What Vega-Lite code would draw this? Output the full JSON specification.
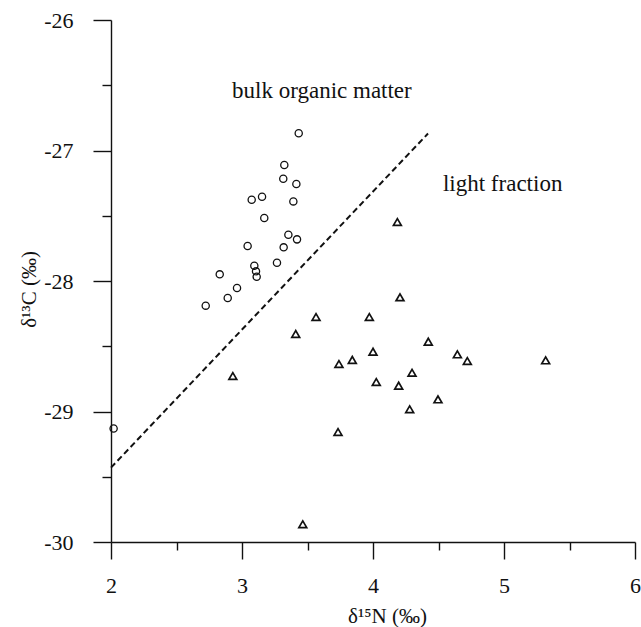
{
  "$schema": "https://vega.github.io/schema/vega-lite/v6.json",
  "width": 524,
  "height": 522,
  "autosize": "none",
  "padding": {"left": 111, "top": 20, "right": 6, "bottom": 85},
  "background": "white",
  "config": {
    "view": {"stroke": null},
    "font": "Liberation Serif",
    "axis": {
      "grid": false,
      "domainColor": "#111111",
      "domainWidth": 1.4,
      "tickColor": "#111111",
      "tickWidth": 1.4,
      "labelFont": "Liberation Serif",
      "labelFontSize": 22,
      "labelColor": "#111111",
      "labelFlush": false,
      "titleFont": "Liberation Serif",
      "titleFontSize": 21,
      "titleFontWeight": "normal",
      "titleColor": "#111111"
    }
  },
  "datasets": {
    "bulk": [
      {"n": 3.433, "c": -26.868},
      {"n": 3.323, "c": -27.111},
      {"n": 3.315, "c": -27.216},
      {"n": 3.415, "c": -27.257},
      {"n": 3.074, "c": -27.377},
      {"n": 3.153, "c": -27.354},
      {"n": 3.392, "c": -27.390},
      {"n": 3.170, "c": -27.517},
      {"n": 3.354, "c": -27.645},
      {"n": 3.420, "c": -27.681},
      {"n": 3.043, "c": -27.732},
      {"n": 3.318, "c": -27.742},
      {"n": 3.267, "c": -27.860},
      {"n": 3.094, "c": -27.883},
      {"n": 3.107, "c": -27.926},
      {"n": 3.112, "c": -27.967},
      {"n": 2.830, "c": -27.949},
      {"n": 2.962, "c": -28.054},
      {"n": 2.891, "c": -28.130},
      {"n": 2.723, "c": -28.189},
      {"n": 2.02, "c": -29.13}
    ],
    "light": [
      {"n": 4.186, "c": -27.548},
      {"n": 4.206, "c": -28.125},
      {"n": 3.565, "c": -28.276},
      {"n": 3.972, "c": -28.276},
      {"n": 3.410, "c": -28.406},
      {"n": 4.422, "c": -28.465},
      {"n": 4.000, "c": -28.542},
      {"n": 4.644, "c": -28.562},
      {"n": 4.720, "c": -28.613},
      {"n": 3.842, "c": -28.605},
      {"n": 3.740, "c": -28.636},
      {"n": 4.298, "c": -28.703},
      {"n": 4.025, "c": -28.774},
      {"n": 4.196, "c": -28.802},
      {"n": 4.496, "c": -28.907},
      {"n": 4.280, "c": -28.983},
      {"n": 3.733, "c": -29.157},
      {"n": 2.930, "c": -28.728},
      {"n": 3.464, "c": -29.864},
      {"n": 5.318, "c": -28.608}
    ],
    "divider": [
      {"n": 2.0, "c": -29.43},
      {"n": 4.42, "c": -26.87}
    ],
    "labels": [
      {"n": 2.924, "c": -26.594, "text": "bulk organic matter"},
      {"n": 4.534, "c": -27.31, "text": "light fraction"}
    ]
  },
  "layer": [
    {
      "data": {"name": "bulk"},
      "mark": {"type": "point", "shape": "circle", "filled": false, "size": 52, "strokeWidth": 1.3, "color": "#111111", "opacity": 1},
      "encoding": {
        "x": {
          "field": "n", "type": "quantitative",
          "scale": {"domain": [2, 6], "nice": false, "zero": false},
          "axis": {"orient": "bottom", "values": [2, 3, 4, 5, 6], "format": "d", "labelFont": "Liberation Serif", "labelFontSize": 22, "labelFlush": false, "tickSize": 17, "labelPadding": 16, "title": "δ¹⁵N (‰)", "titleX": 276, "titleY": 80, "titleBaseline": "alphabetic"}
        },
        "y": {
          "field": "c", "type": "quantitative",
          "scale": {"domain": [-30, -26], "nice": false, "zero": false},
          "axis": {"orient": "left", "values": [-30, -29, -28, -27, -26], "labelExpr": "'-' + format(abs(datum.value), 'd')", "labelFont": "Liberation Serif", "labelFontSize": 22, "labelFlush": false, "tickSize": 18, "labelPadding": 20, "title": "δ¹³C (‰)", "titleX": -76, "titleY": 269, "titleBaseline": "alphabetic", "titleAngle": -90}
        }
      }
    },
    {
      "data": {"name": "light"},
      "mark": {"type": "point", "shape": "triangle-up", "filled": false, "size": 62, "strokeWidth": 1.7, "color": "#111111", "opacity": 1},
      "encoding": {
        "x": {
          "field": "n", "type": "quantitative",
          "scale": {"domain": [2, 6], "nice": false, "zero": false},
          "axis": {"orient": "bottom", "values": [2.5, 3.5, 4.5, 5.5], "tickSize": 8, "labels": false, "domain": false, "title": null}
        },
        "y": {
          "field": "c", "type": "quantitative",
          "scale": {"domain": [-30, -26], "nice": false, "zero": false},
          "axis": {"orient": "left", "values": [-29.5, -28.5, -27.5, -26.5], "tickSize": 9, "labels": false, "domain": false, "title": null}
        }
      }
    },
    {
      "data": {"name": "divider"},
      "mark": {"type": "line", "strokeDash": [6, 3.5], "strokeWidth": 2, "color": "#111111"},
      "encoding": {
        "x": {"field": "n", "type": "quantitative", "scale": {"domain": [2, 6], "nice": false, "zero": false}, "axis": null},
        "y": {"field": "c", "type": "quantitative", "scale": {"domain": [-30, -26], "nice": false, "zero": false}, "axis": null}
      }
    },
    {
      "data": {"name": "labels"},
      "mark": {"type": "text", "align": "left", "baseline": "alphabetic", "font": "Liberation Serif", "fontSize": 23, "color": "#111111"},
      "encoding": {
        "x": {"field": "n", "type": "quantitative", "scale": {"domain": [2, 6], "nice": false, "zero": false}, "axis": null},
        "y": {"field": "c", "type": "quantitative", "scale": {"domain": [-30, -26], "nice": false, "zero": false}, "axis": null},
        "text": {"field": "text", "type": "nominal"}
      }
    }
  ],
  "resolve": {"axis": {"x": "independent", "y": "independent"}}
}
